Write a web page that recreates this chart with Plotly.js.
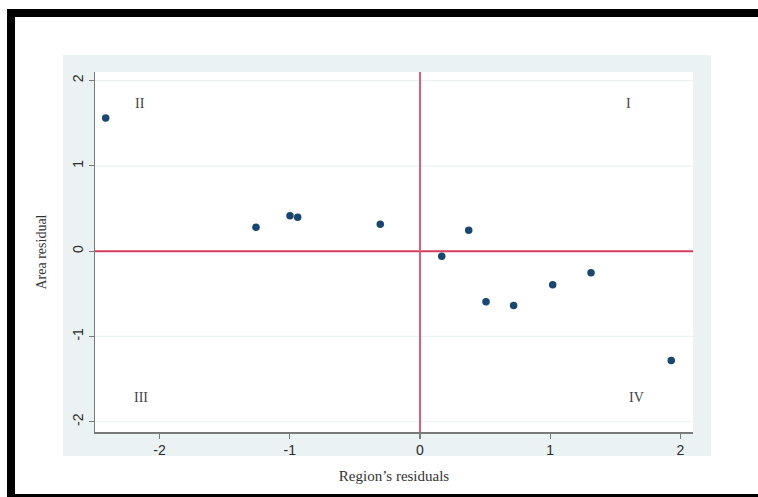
<!DOCTYPE html>
<html>
<head>
<meta charset="utf-8">
<script src="https://cdn.plot.ly/plotly-3.0.1.min.js"></script>
<style>
  html, body { margin: 0; padding: 0; background: #fff; }
  #wrap { position: relative; width: 758px; height: 497px; overflow: hidden; background: #fff; }
  #bgregion { position: absolute; left: 63px; top: 55px; width: 648px; height: 401px; background: #eaf2f3; }
  #chart { position: absolute; left: 0; top: 0; width: 758px; height: 497px; }
  .bar { position: absolute; background: #000; }
</style>
</head>
<body>
<div id="wrap">
  <div id="bgregion"></div>
  <div id="chart"></div>
  <div class="bar" style="left:7px; top:9px; width:751px; height:8px;"></div>
  <div class="bar" style="left:7px; top:9px; width:8px; height:488px;"></div>
  <div class="bar" style="left:7px; top:494px; width:751px; height:3px;"></div>
</div>
<script>
// Data
const regionResiduals = [-2.413, -1.259, -0.998, -0.939, -0.305, 0.167, 0.374, 0.507, 0.719, 1.019, 1.313, 1.929];
const areaResiduals   = [ 1.562,  0.279,  0.416,  0.396,  0.314, -0.059, 0.244, -0.592, -0.636, -0.393, -0.252, -1.281];

const tickValues = [-2, -1, 0, 1, 2];
const tickLabels = ["-2", "-1", "0", "1", "2"];
const gridValues = [-2, -1, 1, 2];

const quadrantLabels = ["II", "I", "III", "IV"];
const quadrantX = [-2.15, 1.60, -2.14, 1.66];
const quadrantY = [1.73, 1.73, -1.72, -1.72];

const xTitle = "Region\u2019s residuals";
const yTitle = "Area residual";

const trace = {
  type: "scatter",
  mode: "markers",
  x: regionResiduals,
  y: areaResiduals,
  marker: { color: "#1a476f", size: 7.5 },
  hoverinfo: "skip"
};

const annotations = quadrantLabels.map((t, i) => ({
  x: quadrantX[i], y: quadrantY[i], xref: "x", yref: "y",
  text: t, showarrow: false,
  font: { family: "Liberation Serif, Times New Roman, serif", size: 14, color: "#444" }
}));

const gridShapes = gridValues.map(v => ({
  type: "line", xref: "paper", yref: "y", x0: 0, x1: 1, y0: v, y1: v,
  line: { color: "#eaf2f3", width: 1.2 }, layer: "below"
}));

const layout = {
  width: 758, height: 497,
  margin: { l: 95, r: 65, t: 72, b: 65 },
  paper_bgcolor: "rgba(0,0,0,0)",
  plot_bgcolor: "#ffffff",
  showlegend: false,
  xaxis: {
    range: [-2.495, 2.096],
    tickvals: tickValues, ticktext: tickLabels,
    showgrid: false, zeroline: false,
    showline: true, linecolor: "#7a7a7a", linewidth: 1.5,
    ticks: "outside", ticklen: 5, tickcolor: "#7a7a7a", tickwidth: 1.2,
    tickfont: { family: "Liberation Sans, Arial, sans-serif", size: 14, color: "#2a2a2a" },
    title: { text: xTitle, standoff: 13,
      font: { family: "Liberation Serif, Times New Roman, serif", size: 15, color: "#333" } }
  },
  yaxis: {
    range: [-2.12, 2.10],
    tickvals: tickValues, ticktext: tickLabels, tickangle: -90,
    showgrid: false, zeroline: false,
    showline: true, linecolor: "#7a7a7a", linewidth: 1.5,
    ticks: "outside", ticklen: 5, tickcolor: "#7a7a7a", tickwidth: 1.2,
    tickfont: { family: "Liberation Sans, Arial, sans-serif", size: 14, color: "#2a2a2a" },
    title: { text: yTitle, standoff: 20,
      font: { family: "Liberation Serif, Times New Roman, serif", size: 14, color: "#333" } }
  },
  shapes: gridShapes.concat([
    { type: "line", xref: "paper", yref: "y", x0: 0, x1: 1, y0: 0, y1: 0,
      line: { color: "#d43c5c", width: 2 }, layer: "between" },
    { type: "line", xref: "x", yref: "paper", x0: 0, x1: 0, y0: 0, y1: 1,
      line: { color: "#d9607a", width: 2 }, layer: "between" }
  ]),
  annotations: annotations
};

Plotly.newPlot("chart", [trace], layout, { displayModeBar: false, staticPlot: true });
</script>
</body>
</html>
